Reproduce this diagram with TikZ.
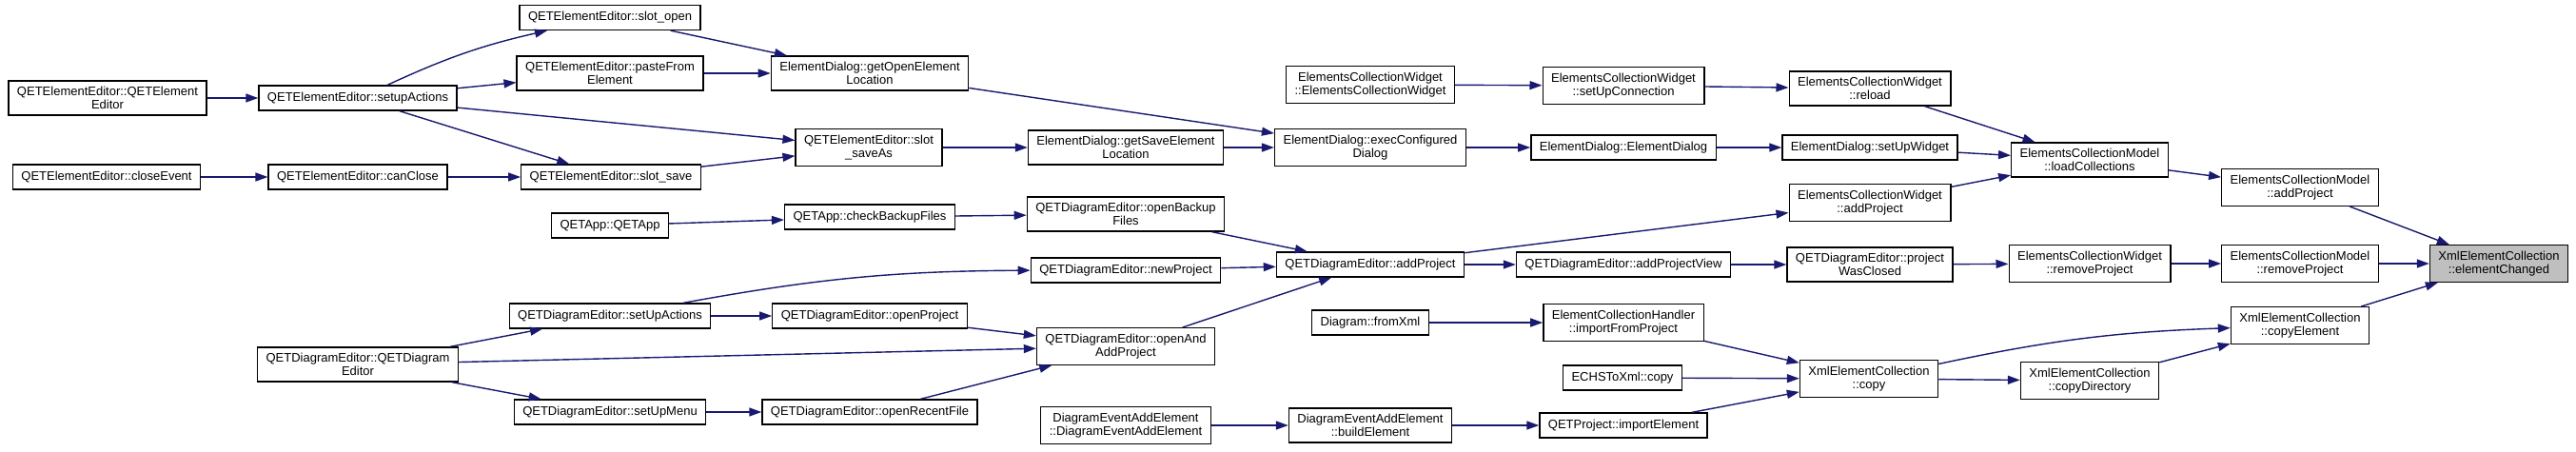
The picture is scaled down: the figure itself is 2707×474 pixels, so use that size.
\documentclass[tikz,border=0pt]{standalone}
\usepackage{fontspec}
\setmainfont{Liberation Sans}
\usetikzlibrary{arrows.meta}
\definecolor{midnight}{RGB}{25,25,112}
\definecolor{grey75}{RGB}{191,191,191}

\begin{document}
\begin{tikzpicture}[x=1pt,y=-1pt,font=\fontsize{13}{14.5}\selectfont,
    fnbox/.style={draw=black,fill=white,line width=1.3pt,align=center,inner xsep=9pt,inner ysep=6pt,minimum height=26pt},
    callee/.style={fnbox,fill=grey75},
    call/.style={draw=midnight,line width=1.4pt,-{Triangle[length=13pt,width=9pt]}}]
    \useasboundingbox (0,0) rectangle (2707,474);

    % QETElementEditor side (left)
    \node[fnbox] (eeCtor) at (113,103) {QETElementEditor::QETElement\\Editor};
    \node[fnbox] (eeClose) at (112,186) {QETElementEditor::closeEvent};
    \node[fnbox] (eeSetup) at (376,103) {QETElementEditor::setupActions};
    \node[fnbox] (eeCanClose) at (376,186) {QETElementEditor::canClose};
    \node[fnbox] (deCtor) at (376,383) {QETDiagramEditor::QETDiagram\\Editor};
    \node[fnbox] (eeOpen) at (641,18.5) {QETElementEditor::slot\_open};
    \node[fnbox] (eePaste) at (641,77) {QETElementEditor::pasteFrom\\Element};
    \node[fnbox] (eeSave) at (642,186) {QETElementEditor::slot\_save};
    \node[fnbox] (appCtor) at (641,237) {QETApp::QETApp};
    \node[fnbox] (deSetUpActions) at (641,332) {QETDiagramEditor::setUpActions};
    \node[fnbox] (deSetUpMenu) at (641,433) {QETDiagramEditor::setUpMenu};

    % dialogs and QETDiagramEditor (middle)
    \node[fnbox] (edOpenLoc) at (914,77) {ElementDialog::getOpenElement\\Location};
    \node[fnbox] (eeSaveAs) at (913,155) {QETElementEditor::slot\\\_saveAs};
    \node[fnbox] (appBackup) at (914,228) {QETApp::checkBackupFiles};
    \node[fnbox] (deOpenProj) at (914,332) {QETDiagramEditor::openProject};
    \node[fnbox] (deRecent) at (914,433) {QETDiagramEditor::openRecentFile};
    \node[fnbox] (edSaveLoc) at (1183,155) {ElementDialog::getSaveElement\\Location};
    \node[fnbox] (deOpenBackup) at (1183,225) {QETDiagramEditor::openBackup\\Files};
    \node[fnbox] (deNew) at (1183,284) {QETDiagramEditor::newProject};
    \node[fnbox] (deOpenAdd) at (1183,364) {QETDiagramEditor::openAnd\\AddProject};
    \node[fnbox] (daeCtor) at (1183,447) {DiagramEventAddElement\\::DiagramEventAddElement};
    \node[fnbox] (ecwCtor) at (1440,89) {ElementsCollectionWidget\\::ElementsCollectionWidget};
    \node[fnbox] (edExec) at (1440,155) {ElementDialog::execConfigured\\Dialog};
    \node[fnbox] (deAdd) at (1440,278) {QETDiagramEditor::addProject};
    \node[fnbox] (dgFromXml) at (1440,339) {Diagram::fromXml};
    \node[fnbox] (daeBuild) at (1440,447) {DiagramEventAddElement\\::buildElement};
    \node[fnbox] (ecwConn) at (1706,90) {ElementsCollectionWidget\\::setUpConnection};
    \node[fnbox] (edCtor) at (1706,155) {ElementDialog::ElementDialog};
    \node[fnbox] (deAddView) at (1706,278) {QETDiagramEditor::addProjectView};
    \node[fnbox] (echImport) at (1706,339) {ElementCollectionHandler\\::importFromProject};
    \node[fnbox] (echsCopy) at (1705,397) {ECHSToXml::copy};
    \node[fnbox] (prjImport) at (1706,447) {QETProject::importElement};

    % collections (right)
    \node[fnbox] (ecwReload) at (1965,93) {ElementsCollectionWidget\\::reload};
    \node[fnbox] (edSetUp) at (1965,155) {ElementDialog::setUpWidget};
    \node[fnbox] (ecwAdd) at (1965,213) {ElementsCollectionWidget\\::addProject};
    \node[fnbox] (deClosed) at (1965,278) {QETDiagramEditor::project\\WasClosed};
    \node[fnbox] (xecCopy) at (1964,398) {XmlElementCollection\\::copy};
    \node[fnbox] (ecmLoad) at (2196,168) {ElementsCollectionModel\\::loadCollections};
    \node[fnbox] (ecwRemove) at (2196,277) {ElementsCollectionWidget\\::removeProject};
    \node[fnbox] (xecCopyDir) at (2196,400) {XmlElementCollection\\::copyDirectory};
    \node[fnbox] (ecmAdd) at (2417,197) {ElementsCollectionModel\\::addProject};
    \node[fnbox] (ecmRemove) at (2417,277) {ElementsCollectionModel\\::removeProject};
    \node[fnbox] (xecCopyEl) at (2417,342) {XmlElementCollection\\::copyElement};
    \node[callee] (xecChanged) at (2626,277) {XmlElementCollection\\::elementChanged};

    % calls
    \foreach \a/\b in {eeCtor/eeSetup,eeSetup/eePaste,eeSetup/eeSaveAs,eeSetup/eeSave,
      eeClose/eeCanClose,eeCanClose/eeSave,eeOpen/edOpenLoc,eePaste/edOpenLoc,
      eeSave/eeSaveAs,eeSaveAs/edSaveLoc,edOpenLoc/edExec,edSaveLoc/edExec,
      edExec/edCtor,edCtor/edSetUp,edSetUp/ecmLoad,ecwCtor/ecwConn,ecwConn/ecwReload,
      ecwReload/ecmLoad,ecwAdd/ecmLoad,ecmLoad/ecmAdd,ecmAdd/xecChanged,
      appCtor/appBackup,appBackup/deOpenBackup,deOpenBackup/deAdd,deNew/deAdd,
      deOpenAdd/deAdd,deAdd/deAddView,deAddView/deClosed,deClosed/ecwRemove,
      ecwRemove/ecmRemove,ecmRemove/xecChanged,deSetUpActions/deOpenProj,
      deOpenProj/deOpenAdd,deCtor/deSetUpActions,deCtor/deOpenAdd,deCtor/deSetUpMenu,
      deSetUpMenu/deRecent,deRecent/deOpenAdd,dgFromXml/echImport,echImport/xecCopy,
      echsCopy/xecCopy,prjImport/xecCopy,daeCtor/daeBuild,daeBuild/prjImport,
      xecCopy/xecCopyDir,xecCopyDir/xecCopyEl,xecCopyEl/xecChanged,deAdd/ecwAdd}
      \draw[call] (\a) -- (\b);
    \draw[call] (eeSetup) to[bend left=6] (eeOpen);
    \draw[call] (deSetUpActions) to[bend left=5] (deNew);
    \draw[call] (xecCopy) to[bend left=5] (xecCopyEl);
\end{tikzpicture}
\end{document}
